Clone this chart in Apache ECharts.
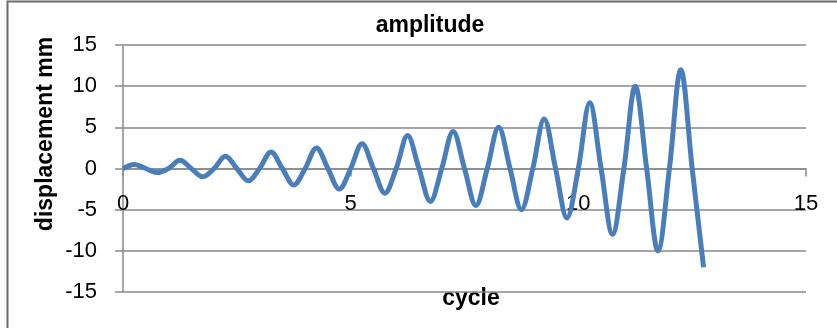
<!DOCTYPE html>
<html>
<head>
<meta charset="utf-8">
<script src="https://cdn.jsdelivr.net/npm/echarts@6/dist/echarts.min.js"></script>
<style>
  html, body { margin: 0; padding: 0; background: #fff; }
  #main { width: 837px; height: 328px; }
</style>
</head>
<body>
<div id="main"></div>
<script>
// cycle positions (quarter cycles)
var cycle = [0, 0.25, 0.5, 0.75, 1, 1.25, 1.5, 1.75, 2, 2.25, 2.5, 2.75,
  3, 3.25, 3.5, 3.75, 4, 4.25, 4.5, 4.75, 5, 5.25, 5.5, 5.75,
  6, 6.25, 6.5, 6.75, 7, 7.25, 7.5, 7.75, 8, 8.25, 8.5, 8.75,
  9, 9.25, 9.5, 9.75, 10, 10.25, 10.5, 10.75, 11, 11.25, 11.5, 11.75,
  12, 12.25, 12.5, 12.75];
// displacement mm
var displacement = [0, 0.5, 0, -0.5, 0, 1, 0, -1, 0, 1.5, 0, -1.5,
  0, 2, 0, -2, 0, 2.5, 0, -2.5, 0, 3, 0, -3,
  0, 4, 0, -4, 0, 4.5, 0, -4.5, 0, 5, 0, -5,
  0, 6, 0, -6, 0, 8, 0, -8, 0, 10, 0, -10,
  0, 12, 0, -12];
var xTicks = [0, 5, 10, 15];
var yTicks = [-15, -10, -5, 0, 5, 10, 15];

var fontFam = '"Liberation Sans", Arial, sans-serif';
var gridColor = '#898989';

var seriesData = [];
for (var i = 0; i < cycle.length; i++) {
  seriesData.push([cycle[i], displacement[i]]);
}

var myChart = echarts.init(document.getElementById('main'));
var option = {
  backgroundColor: '#fff',
  animation: false,
  title: {
    text: 'amplitude',
    left: 425,
    top: 9,
    textAlign: 'center',
    textStyle: { fontFamily: fontFam, fontSize: 23, fontWeight: 'bold', color: '#000' }
  },
  grid: { left: 123, right: 31, top: 45, bottom: 36, containLabel: false, outerBoundsMode: 'none' },
  xAxis: {
    type: 'value',
    min: xTicks[0],
    max: xTicks[xTicks.length - 1],
    interval: 5,
    axisLine: { show: true, onZero: true, lineStyle: { color: gridColor, width: 1.5 } },
    axisTick: { show: true, length: 8, lineStyle: { color: gridColor, width: 1.5 } },
    // labels sit just under the zero line, like the original
    axisLabel: { margin: -99, fontFamily: fontFam, fontSize: 22, color: '#000' },
    splitLine: { show: false }
  },
  yAxis: {
    type: 'value',
    min: yTicks[0],
    max: yTicks[yTicks.length - 1],
    interval: 5,
    axisLine: { show: true, lineStyle: { color: gridColor, width: 1.5 } },
    axisTick: { show: true, length: 8, lineStyle: { color: gridColor, width: 1.5 } },
    axisLabel: { margin: 26, fontFamily: fontFam, fontSize: 22, color: '#000' },
    splitLine: { show: true, lineStyle: { color: gridColor, width: 1.5 } }
  },
  graphic: [
    {
      type: 'rect',
      shape: { x: 7.5, y: 1.5, width: 900, height: 400 },
      style: { fill: 'none', stroke: '#6b6b6b', lineWidth: 2 },
      silent: true
    },
    {
      type: 'text',
      x: 46,
      y: 134,
      rotation: Math.PI / 2,
      style: {
        text: 'displacement mm',
        font: 'bold 23px ' + fontFam,
        fill: '#000',
        align: 'center',
        verticalAlign: 'middle'
      }
    },
    {
      type: 'text',
      x: 471,
      y: 299,
      style: {
        text: 'cycle',
        font: 'bold 23px ' + fontFam,
        fill: '#000',
        align: 'center',
        verticalAlign: 'middle'
      }
    }
  ],
  series: [{
    type: 'line',
    data: seriesData,
    smooth: 0.35,
    showSymbol: false,
    lineStyle: { color: '#4a7ebb', width: 5 },
    itemStyle: { color: '#4a7ebb' }
  }]
};
myChart.setOption(option);
</script>
</body>
</html>
